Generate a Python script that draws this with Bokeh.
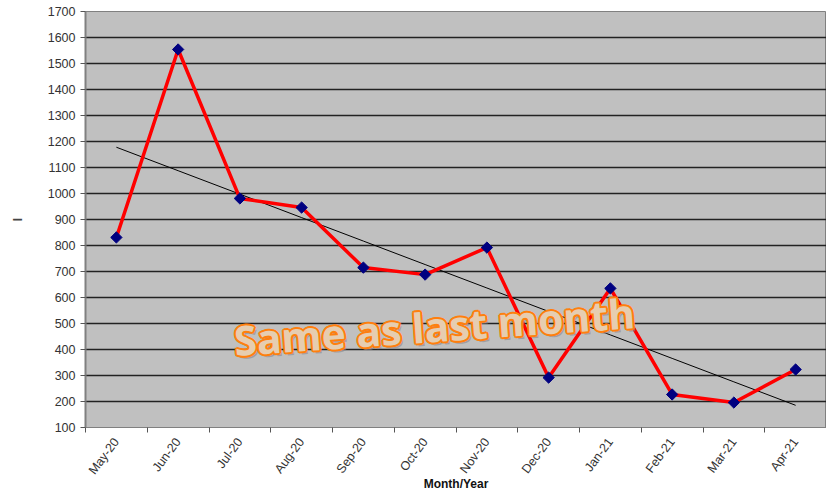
import numpy as np
from bokeh.plotting import figure
from bokeh.models import Range1d, FixedTicker, Label, ColumnDataSource
from bokeh.embed import file_html
from bokeh.resources import INLINE

months = ["May-20", "Jun-20", "Jul-20", "Aug-20", "Sep-20", "Oct-20",
          "Nov-20", "Dec-20", "Jan-21", "Feb-21", "Mar-21", "Apr-21"]
values = [831, 1554, 981, 946, 715, 688, 792, 292, 635, 227, 196, 323]
y_ticks = list(range(100, 1701, 100))
annotation = "Same as last month"
x_title = "Month/Year"

idx = list(range(len(months)))
src = ColumnDataSource(dict(x=idx, y=values, m=months))

# linear trend line derived from the data
coef = np.polyfit(idx, values, 1)
trend_y = list(np.polyval(coef, idx))

p = figure(width=826, height=494, output_backend="svg", toolbar_location=None,
           x_range=Range1d(-0.5, len(months) - 0.5), y_range=Range1d(100, 1700),
           min_border_left=85, min_border_right=0, min_border_top=11, min_border_bottom=67)
p.background_fill_color = "#C0C0C0"
p.border_fill_color = "white"
p.outline_line_color = "#808080"
p.outline_line_width = 1

p.xgrid.grid_line_color = None
p.ygrid.grid_line_color = "#222222"
p.ygrid.grid_line_width = 1.3
p.ygrid.ticker = FixedTicker(ticks=y_ticks)

font = "Liberation Sans"
p.yaxis.ticker = FixedTicker(ticks=y_ticks)
p.yaxis.axis_line_color = "#808080"
p.yaxis.axis_line_width = 2
p.yaxis.major_tick_line_color = "#555555"
p.yaxis.major_tick_out = 5
p.yaxis.major_tick_in = 0
p.yaxis.minor_tick_line_color = None
p.yaxis.major_label_text_font = font
p.yaxis.major_label_text_font_size = "12.5px"
p.yaxis.major_label_text_color = "#333333"
p.yaxis.axis_label = "I"
p.yaxis.axis_label_text_font = font
p.yaxis.axis_label_text_font_style = "bold"
p.yaxis.axis_label_text_font_size = "12px"
p.yaxis.axis_label_text_color = "#444444"
p.yaxis.axis_label_standoff = 20

p.xaxis.ticker = FixedTicker(ticks=idx, minor_ticks=[i - 0.5 for i in idx] + [len(idx) - 0.5])
p.xaxis.major_label_overrides = {i: m for i, m in enumerate(months)}
p.xaxis.major_tick_line_color = None
p.xaxis.minor_tick_line_color = "#555555"
p.xaxis.minor_tick_out = 5
p.xaxis.minor_tick_in = 0
p.xaxis.axis_line_color = "#808080"
p.xaxis.axis_line_width = 1
p.xaxis.major_label_orientation = 0.93
p.xaxis.major_label_standoff = 6
p.xaxis.major_label_text_font = font
p.xaxis.major_label_text_font_size = "12.5px"
p.xaxis.major_label_text_color = "#333333"
p.xaxis.axis_label = x_title
p.xaxis.axis_label_text_font = font
p.xaxis.axis_label_text_font_style = "bold"
p.xaxis.axis_label_text_font_size = "12px"
p.xaxis.axis_label_text_color = "#111111"
p.xaxis.axis_label_standoff = -7

p.line(idx, trend_y, line_color="black", line_width=1)
p.line("x", "y", source=src, line_color="#FF0000", line_width=3.5)
p.scatter("x", "y", source=src, marker="square", angle=np.pi / 4, size=8,
          fill_color="#000080", line_color="#000080")

lab_kw = dict(x=5.15, y=490, text=annotation, text_font="Open Sans",
              text_font_size="41px", text_font_style="bold",
              text_align="center", text_baseline="middle", angle=0.07)
# soft shadow
p.add_layout(Label(text_color="#8a8a8a", text_alpha=0.6, x_offset=2.5, y_offset=-3, **lab_kw))
# outline built from offset copies
for dx, dy in [(-2, 0), (2, 0), (0, -2), (0, 2), (-1.4, -1.4), (1.4, 1.4), (-1.4, 1.4), (1.4, -1.4)]:
    p.add_layout(Label(text_color="#FF7F0E", x_offset=dx, y_offset=dy, **lab_kw))
p.add_layout(Label(text_color="#E6CDB0", **lab_kw))

open("out.html", "w").write(file_html(p, INLINE))
